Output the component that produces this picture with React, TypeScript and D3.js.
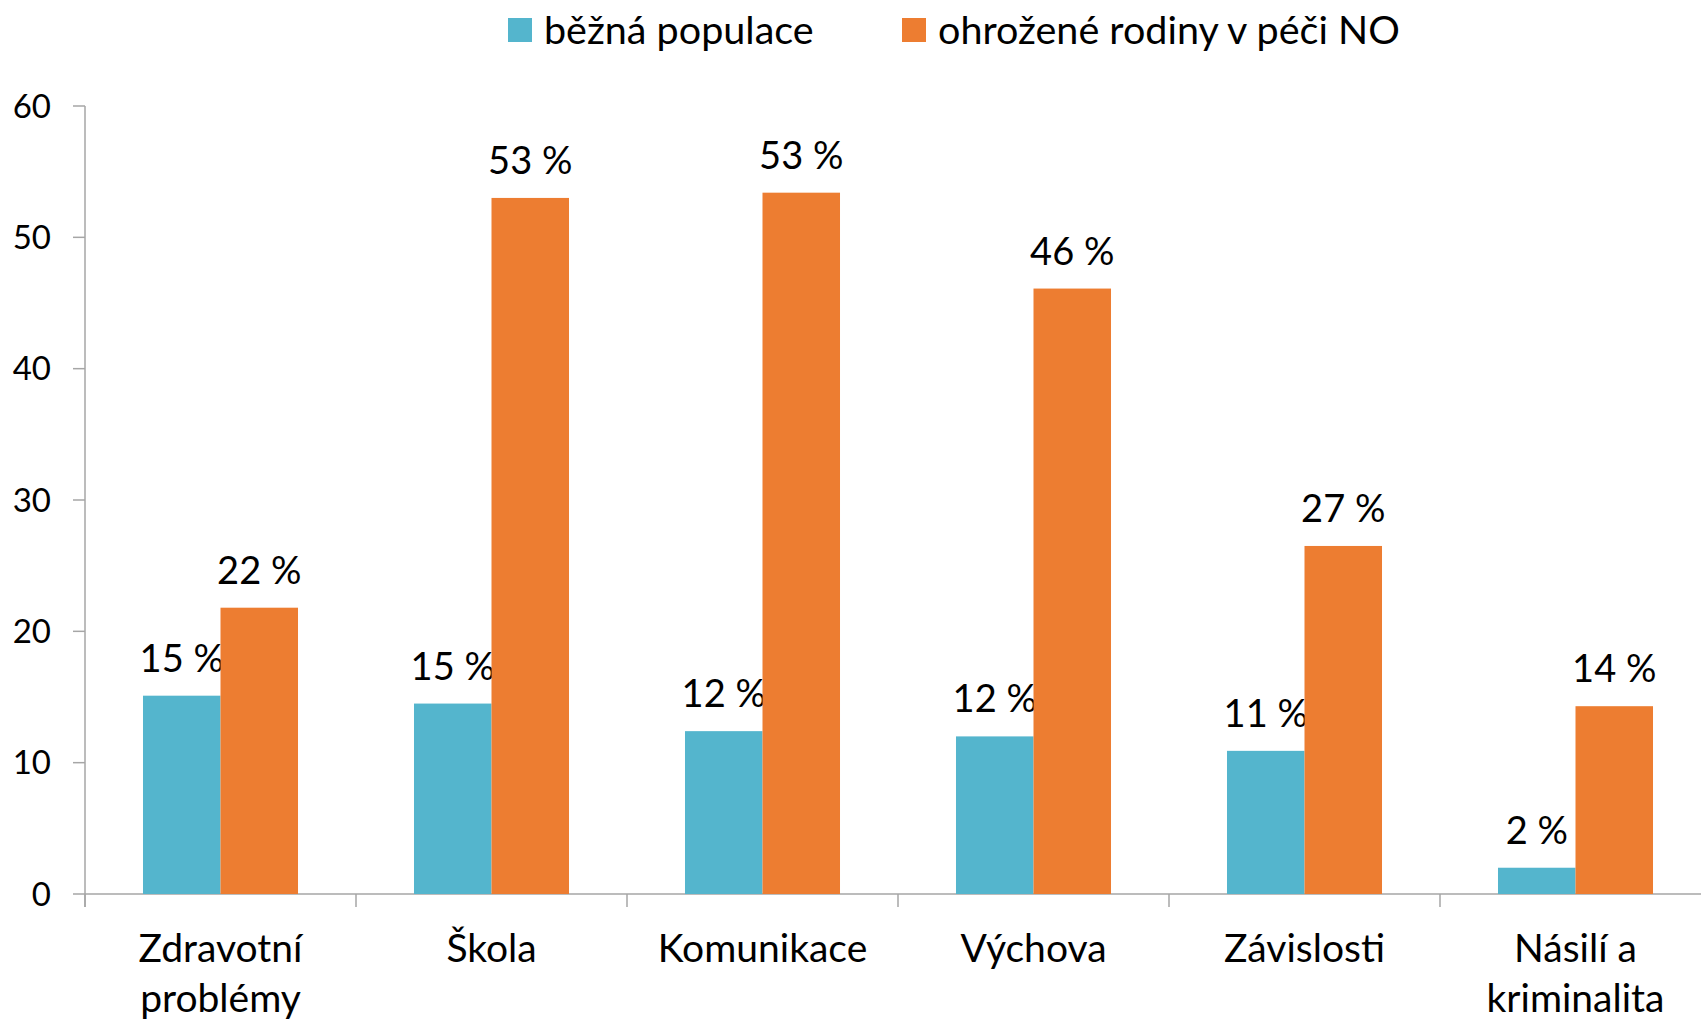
import * as d3 from 'd3';

const categories = ['Zdravotní\nproblémy', 'Škola', 'Komunikace', 'Výchova', 'Závislosti', 'Násilí a\nkriminalita'];
const seriesNames = ['běžná populace', 'ohrožené rodiny v péči NO'];
const generalPopulation = [15.1, 14.5, 12.4, 12.0, 10.9, 2.0];
const familiesAtRisk = [21.8, 53.0, 53.4, 46.1, 26.5, 14.3];
const valueLabels = [
    ['15 %', '15 %', '12 %', '12 %', '11 %', '2 %'],
    ['22 %', '53 %', '53 %', '46 %', '27 %', '14 %'],
];
const yTicks = [0, 10, 20, 30, 40, 50, 60];

const colors = ['#54B5CD', '#ED7D31'];
const font = 'Lato, "Open Sans", sans-serif';

const width = 1701;
const height = 1021;
const plot = { left: 85, right: 1711, top: 106, bottom: 894 };

export default function App() {
    // category bands, one pair of bars per band
    const x = d3.scaleBand<number>()
        .domain(d3.range(categories.length))
        .range([plot.left, plot.right])
        .paddingInner(0.428)
        .paddingOuter(0.214);
    const step = x.step();
    const inner = d3.scaleBand<number>().domain([0, 1]).range([0, x.bandwidth()]);
    const y = d3.scaleLinear().domain([0, 60]).range([plot.bottom, plot.top]);

    const series = [generalPopulation, familiesAtRisk];
    const legendX = [508, 902];

    return (
        <svg width={width} height={height} style={{ position: 'absolute', left: 0, top: 0, background: '#fff' }}>
            {/* legend */}
            {seriesNames.map((name, i) => (
                <g key={name} transform={`translate(${legendX[i]}, 18)`}>
                    <rect width={24} height={24} fill={colors[i]} />
                    <text x={36} y={26} fontFamily={font} fontSize={39.5} fill="#000">{name}</text>
                </g>
            ))}

            {/* y axis */}
            <line x1={plot.left} x2={plot.left} y1={y(60)} y2={plot.bottom + 13} stroke="#A6A6A6" strokeWidth={1.5} />
            {yTicks.map(t => (
                <g key={t} transform={`translate(0, ${y(t)})`}>
                    <line x1={plot.left - 12} x2={plot.left} stroke="#A6A6A6" strokeWidth={1.5} />
                    <text x={51} dy="0.35em" textAnchor="end" fontFamily={font} fontSize={33} fill="#000">{t}</text>
                </g>
            ))}

            {/* x axis */}
            <line x1={plot.left} x2={plot.right} y1={plot.bottom} y2={plot.bottom} stroke="#A6A6A6" strokeWidth={1.5} />
            {d3.range(categories.length + 1).map(i => (
                <line key={i} x1={plot.left + i * step} x2={plot.left + i * step} y1={plot.bottom} y2={plot.bottom + 13}
                    stroke="#A6A6A6" strokeWidth={1.5} />
            ))}
            {categories.map((c, i) => (
                <text key={c} x={(x(i) as number) + x.bandwidth() / 2} y={962} textAnchor="middle"
                    fontFamily={font} fontSize={39} fill="#000">
                    {c.split('\n').map((line, j) => (
                        <tspan key={j} x={(x(i) as number) + x.bandwidth() / 2} dy={j === 0 ? 0 : 50}>{line}</tspan>
                    ))}
                </text>
            ))}

            {/* bars and labels */}
            {series.map((values, s) => (
                <g key={s}>
                    {values.map((v, i) => {
                        const bx = (x(i) as number) + (inner(s) as number);
                        return (
                            <g key={i}>
                                <rect x={bx} y={y(v)} width={inner.bandwidth()} height={y(0) - y(v)} fill={colors[s]} />
                                <text x={bx + inner.bandwidth() / 2} y={y(v) - 24} textAnchor="middle"
                                    fontFamily={font} fontSize={38} fill="#000">{valueLabels[s][i]}</text>
                            </g>
                        );
                    })}
                </g>
            ))}
        </svg>
    );
}
